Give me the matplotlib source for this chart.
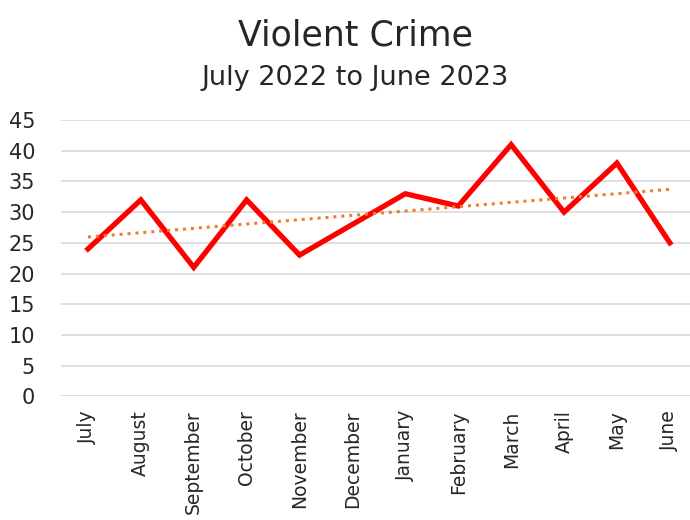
import matplotlib
matplotlib.use("Agg")
import matplotlib.pyplot as plt
import numpy as np

months = ["July", "August", "September", "October", "November", "December",
          "January", "February", "March", "April", "May", "June"]
crimes = [24, 32, 21, 32, 23, 28, 33, 31, 41, 30, 38, 25]
yticks = [0, 5, 10, 15, 20, 25, 30, 35, 40, 45]

plt.rcParams['font.family'] = ['DejaVu Sans']

fig = plt.figure(figsize=(6.9, 5.2), dpi=100)
ax = fig.add_axes([0.0891, 0.238, 0.920, 0.531])

x = np.arange(len(months))
ax.plot(x, crimes, color='#FF0000', lw=3.8, solid_joinstyle='miter', zorder=3)
coef = np.polyfit(x, crimes, 1)
ax.plot(x, np.polyval(coef, x), color='#ED7D31', lw=2.2, ls=(0, (1, 1.6)), zorder=4)

ax.set_xlim(-0.5, len(months) - 0.5)
ax.set_ylim(0, 45)
ax.set_yticks(yticks)
ax.set_yticklabels([str(v) for v in yticks], fontsize=15, color='#262626')
ax.set_xticks(x)
ax.set_xticklabels(months, rotation=90, fontsize=13.5, color='#262626')
ax.tick_params(axis='both', length=0)
ax.tick_params(axis='y', pad=19)
ax.tick_params(axis='x', pad=10)
ax.grid(axis='y', color='#D9D9D9', lw=1.2)
ax.set_axisbelow(True)
for s in ax.spines.values():
    s.set_visible(False)

fig.text(0.515, 0.912, "Violent Crime", ha='center', va='baseline', fontsize=25, color='#262626')
fig.text(0.515, 0.837, "July 2022 to June 2023", ha='center', va='baseline', fontsize=19.5, color='#262626')

fig.savefig("out.png", dpi=100)
